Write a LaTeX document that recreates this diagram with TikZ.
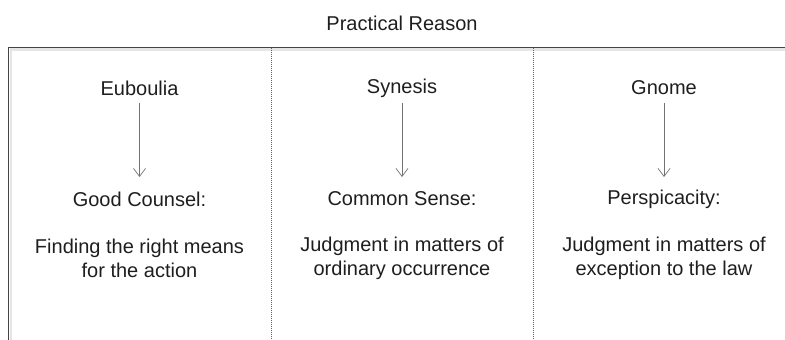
\documentclass[tikz,border=0pt]{standalone}
\usepackage{fontspec}
\setmainfont{Liberation Sans}
\usetikzlibrary{arrows.meta}
\definecolor{txt}{HTML}{1E1E1E}
\definecolor{frame}{HTML}{444444}
\tikzset{
  lbl/.style={text=txt, font=\fontsize{20}{23.5}\selectfont, align=center, inner sep=0pt},
  arr/.style={draw=gray!90!black, line width=0.7pt, -{Straight Barb[length=8pt,width=12pt,line width=0.7pt]}, shorten <=15pt, shorten >=22pt},
  divider/.style={draw=gray!80!black, line width=0.8pt, dash pattern=on 1pt off 1pt},
  framel/.style={draw=frame, line width=1pt},
  shadowl/.style={draw=gray!20, line width=2.5pt},
}
\begin{document}
\begin{tikzpicture}[x=1pt,y=-1pt]
\useasboundingbox (0,0) rectangle (785,340);
% frame shadow
\draw[shadowl] (10,49.5) -- (785,49.5);
\draw[shadowl] (11,49) -- (11,340);
% frame
\draw[framel] (8.5,340) -- (8.5,47) -- (785,47);
% dividers
\coordinate (d1t) at (271,47.5);
\coordinate (d1b) at (271,340);
\coordinate (d2t) at (533.5,47.5);
\coordinate (d2b) at (533.5,340);
\draw[divider] (d1t) -- (d1b);
\draw[divider] (d2t) -- (d2b);
% title
\node[lbl] (title) at (402,23) {Practical Reason};
% column 1
\node[lbl] (a1) at (139.5,88) {Euboulia};
\node[lbl] (a2) at (139.5,199) {Good Counsel:};
\node[lbl] (a3) at (139.5,258.5) {Finding the right means\\for the action};
\draw[arr] (a1.center) -- (a2.center);
% column 2
\node[lbl] (b1) at (402,88) {Synesis};
\node[lbl] (b2) at (402,199) {Common Sense:};
\node[lbl] (b3) at (402,258.5) {Judgment in matters of\\ordinary occurrence};
\draw[arr] (b1.center) -- (b2.center);
% column 3
\node[lbl] (c1) at (664,88) {Gnome};
\node[lbl] (c2) at (664,199) {Perspicacity:};
\node[lbl] (c3) at (664,258.5) {Judgment in matters of\\exception to the law};
\draw[arr] (c1.center) -- (c2.center);
\end{tikzpicture}
\end{document}
